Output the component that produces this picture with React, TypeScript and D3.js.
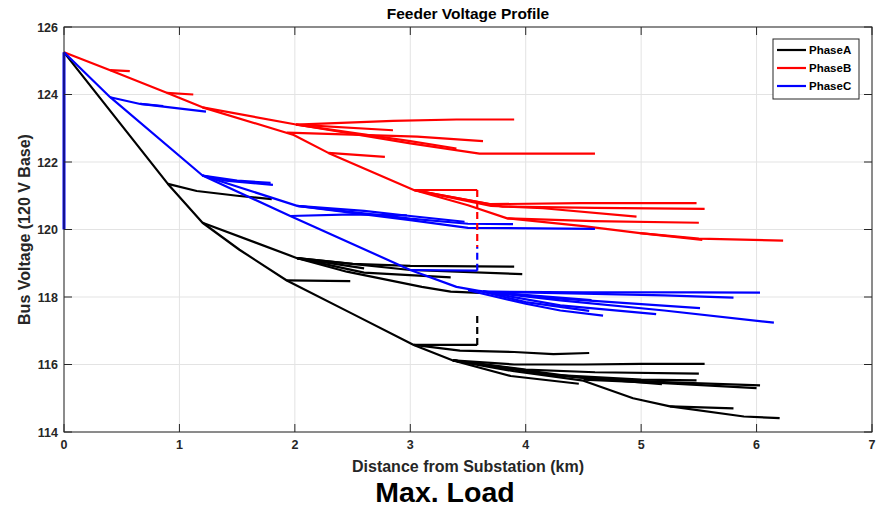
import React from "react";
import * as d3 from "d3";

type Pt = [number, number];

const xTicks = [0, 1, 2, 3, 4, 5, 6, 7];
const yTicks = [114, 116, 118, 120, 122, 124, 126];

const phaseNames = ["PhaseA", "PhaseB", "PhaseC"];
const phaseColors = ["#000000", "#ff0000", "#0000ff"];

const phaseA: Pt[][] = [
  [[0, 125.25], [0.9, 121.35], [1.2, 120.2], [1.52, 119.4], [1.93, 118.49], [2.5, 117.5], [3.03, 116.58], [3.37, 116.12], [3.9, 115.8], [4.5, 115.52], [4.93, 115.0], [5.25, 114.76], [5.89, 114.46], [6.2, 114.41]],
  [[0.9, 121.35], [1.15, 121.14], [1.5, 121.0], [1.8, 120.9]],
  [[1.2, 120.2], [2.02, 119.15], [2.5, 118.98], [3.0, 118.92], [3.9, 118.9]],
  [[2.02, 119.15], [2.6, 118.85]],
  [[2.02, 119.15], [3.0, 118.8], [3.97, 118.68]],
  [[2.02, 119.15], [2.6, 118.72], [3.35, 118.58]],
  [[2.02, 119.15], [2.45, 118.75], [3.1, 118.3], [3.35, 118.16], [3.6, 118.12]],
  [[1.93, 118.49], [2.48, 118.47]],
  [[3.03, 116.58], [3.58, 116.58]],
  [[3.03, 116.58], [3.43, 116.41], [3.9, 116.37], [4.24, 116.31], [4.55, 116.34]],
  [[3.37, 116.12], [3.9, 116.0], [4.5, 116.0], [5.0, 116.02], [5.55, 116.02]],
  [[3.37, 116.12], [4.0, 115.85], [4.6, 115.77], [5.5, 115.73]],
  [[3.37, 116.12], [4.2, 115.7], [5.0, 115.55], [5.48, 115.53]],
  [[3.37, 116.12], [4.3, 115.66], [5.18, 115.42]],
  [[3.37, 116.12], [4.5, 115.6], [5.2, 115.48], [6.03, 115.38]],
  [[4.5, 115.55], [5.2, 115.45], [6.0, 115.3]],
  [[3.37, 116.12], [3.87, 115.66], [4.46, 115.43]],
  [[5.25, 114.76], [5.8, 114.7]],
];

const phaseB: Pt[][] = [
  [[0, 125.25], [0.4, 124.72], [0.89, 124.05], [1.2, 123.62], [1.99, 122.8], [2.29, 122.27], [3.03, 121.17], [3.5, 120.72], [3.84, 120.33], [4.5, 120.1], [4.99, 119.89], [5.5, 119.73], [6.23, 119.67]],
  [[0.4, 124.72], [0.57, 124.69]],
  [[0.89, 124.05], [1.12, 124.0]],
  [[1.2, 123.62], [2.01, 123.11], [2.85, 123.22], [3.4, 123.26], [3.9, 123.26]],
  [[2.01, 123.11], [2.85, 122.94]],
  [[2.01, 123.11], [3.0, 122.62], [3.4, 122.4]],
  [[2.01, 123.11], [3.0, 122.55], [3.6, 122.25], [4.6, 122.25]],
  [[1.93, 122.87], [3.06, 122.75], [3.63, 122.62]],
  [[2.29, 122.27], [2.78, 122.15]],
  [[3.03, 121.17], [3.58, 121.17]],
  [[3.03, 121.17], [3.69, 120.75], [4.47, 120.78], [5.48, 120.78]],
  [[3.03, 121.17], [3.8, 120.68], [4.6, 120.64], [5.55, 120.61]],
  [[3.03, 121.17], [3.7, 120.7], [4.15, 120.63], [4.96, 120.38]],
  [[3.84, 120.33], [4.59, 120.25], [5.5, 120.2]],
  [[4.99, 119.89], [5.53, 119.69]],
];

const phaseC: Pt[][] = [
  [[0, 125.25], [0, 120.0]],
  [[0, 125.25], [0.4, 123.92], [1.2, 121.6], [1.96, 120.4], [3.0, 118.8], [3.4, 118.3], [3.63, 118.16], [4.5, 118.14], [5.48, 118.14], [6.03, 118.13]],
  [[0.4, 123.92], [0.66, 123.72], [1.23, 123.49]],
  [[0.66, 123.72], [0.86, 123.66]],
  [[1.2, 121.6], [1.4, 121.45], [1.81, 121.32]],
  [[1.2, 121.6], [1.5, 121.45], [1.79, 121.38]],
  [[1.2, 121.6], [2.02, 120.7], [2.6, 120.55], [3.0, 120.4], [3.47, 120.23]],
  [[2.02, 120.7], [3.0, 120.32], [3.5, 120.17], [3.89, 120.16]],
  [[2.02, 120.7], [3.0, 120.28], [3.5, 120.05], [4.6, 120.02]],
  [[1.96, 120.4], [2.5, 120.45], [2.97, 120.42]],
  [[3.0, 118.8], [3.58, 118.78]],
  [[3.63, 118.16], [4.5, 118.1], [5.2, 118.05], [5.8, 117.98]],
  [[3.63, 118.16], [4.3, 117.95], [5.51, 117.67]],
  [[3.63, 118.16], [4.3, 117.9], [5.2, 117.6], [6.15, 117.24]],
  [[3.63, 118.16], [4.3, 117.75], [5.13, 117.49]],
  [[3.5, 118.2], [4.0, 117.8], [4.3, 117.6], [4.67, 117.45]],
  [[3.63, 118.16], [4.57, 117.91]],
  [[3.6, 118.18], [4.0, 117.85], [4.55, 117.59]],
];

// regulator links (dashed): [phase index, distance, from V, to V]
const dashedLinks: [number, number, number, number][] = [
  [0, 3.58, 116.58, 117.54],
  [1, 3.58, 121.17, 119.48],
  [2, 3.58, 118.78, 119.48],
];

const W = 879;
const H = 509;
const M = { left: 64, right: 872, top: 27, bottom: 432 };
const FONT = "'Liberation Sans', Arial, Helvetica, sans-serif";

export default function App() {
  const x = d3.scaleLinear().domain([0, 7]).range([M.left, M.right]);
  const y = d3.scaleLinear().domain([114, 126]).range([M.bottom, M.top]);
  const line = d3
    .line<Pt>()
    .x((d) => x(d[0]))
    .y((d) => y(d[1]));
  const phases = [phaseA, phaseB, phaseC];
  const axisColor = "#262626";
  const gridColor = "#e3e3e3";
  const tickLen = 8;

  return (
    <svg
      width={W}
      height={H}
      style={{ position: "fixed", left: 0, top: 0, background: "#fff" }}
      fontFamily={FONT}
    >
      <rect x={0} y={0} width={W} height={H} fill="#fff" />
      {xTicks.map((t) => (
        <line key={"gx" + t} x1={x(t)} x2={x(t)} y1={M.top} y2={M.bottom} stroke={gridColor} strokeWidth={1} />
      ))}
      {yTicks.map((t) => (
        <line key={"gy" + t} x1={M.left} x2={M.right} y1={y(t)} y2={y(t)} stroke={gridColor} strokeWidth={1} />
      ))}
      <defs>
        <clipPath id="clip">
          <rect x={M.left - 2} y={M.top} width={M.right - M.left + 2} height={M.bottom - M.top} />
        </clipPath>
      </defs>
      <g clipPath="url(#clip)">
        {phases.map((branches, pi) =>
          branches.map((b, bi) => (
            <path
              key={pi + "-" + bi}
              d={line(b) || ""}
              fill="none"
              stroke={phaseColors[pi]}
              strokeWidth={pi === 2 && bi === 0 ? 3 : 2.2}
              strokeLinejoin="round"
            />
          ))
        )}
        {dashedLinks.map((l, i) => (
          <line
            key={"dl" + i}
            x1={x(l[1])}
            x2={x(l[1])}
            y1={y(l[2])}
            y2={y(l[3])}
            stroke={phaseColors[l[0]]}
            strokeWidth={2.2}
            strokeDasharray="7 4"
          />
        ))}
      </g>
      <rect
        x={M.left}
        y={M.top}
        width={M.right - M.left}
        height={M.bottom - M.top}
        fill="none"
        stroke={axisColor}
        strokeWidth={1}
      />
      {xTicks.map((t) => (
        <g key={"tx" + t}>
          <line x1={x(t)} x2={x(t)} y1={M.bottom} y2={M.bottom - tickLen} stroke={axisColor} />
          <line x1={x(t)} x2={x(t)} y1={M.top} y2={M.top + tickLen} stroke={axisColor} />
          <text x={x(t)} y={M.bottom + 17} textAnchor="middle" fontSize={12.5} fontWeight="bold" fill={axisColor}>
            {t}
          </text>
        </g>
      ))}
      {yTicks.map((t) => (
        <g key={"ty" + t}>
          <line x1={M.left} x2={M.left + tickLen} y1={y(t)} y2={y(t)} stroke={axisColor} />
          <line x1={M.right} x2={M.right - tickLen} y1={y(t)} y2={y(t)} stroke={axisColor} />
          <text x={M.left - 6} y={y(t) + 4.5} textAnchor="end" fontSize={12.5} fontWeight="bold" fill={axisColor}>
            {t}
          </text>
        </g>
      ))}
      <text x={(M.left + M.right) / 2} y={19} textAnchor="middle" fontSize={15.5} fontWeight="bold" fill="#000">
        Feeder Voltage Profile
      </text>
      <text x={(M.left + M.right) / 2} y={472} textAnchor="middle" fontSize={16} fontWeight="bold" fill={axisColor}>
        Distance from Substation (km)
      </text>
      <text
        transform={`translate(30, ${(M.top + M.bottom) / 2}) rotate(-90)`}
        textAnchor="middle"
        fontSize={16}
        fontWeight="bold"
        fill={axisColor}
      >
        Bus Voltage (120 V Base)
      </text>
      <text x={445} y={502} textAnchor="middle" fontSize={28.5} fontWeight="bold" fill="#000">
        Max. Load
      </text>
      <g>
        <rect x={773} y={39} width={86} height={60} fill="#fff" stroke={axisColor} strokeWidth={1} />
        {phaseNames.map((n, i) => (
          <g key={n}>
            <line x1={777} x2={806} y1={50 + i * 18} y2={50 + i * 18} stroke={phaseColors[i]} strokeWidth={2.2} />
            <text x={809} y={50 + i * 18 + 4} fontSize={11.5} fontWeight="bold" fill="#000">
              {n}
            </text>
          </g>
        ))}
      </g>
    </svg>
  );
}
